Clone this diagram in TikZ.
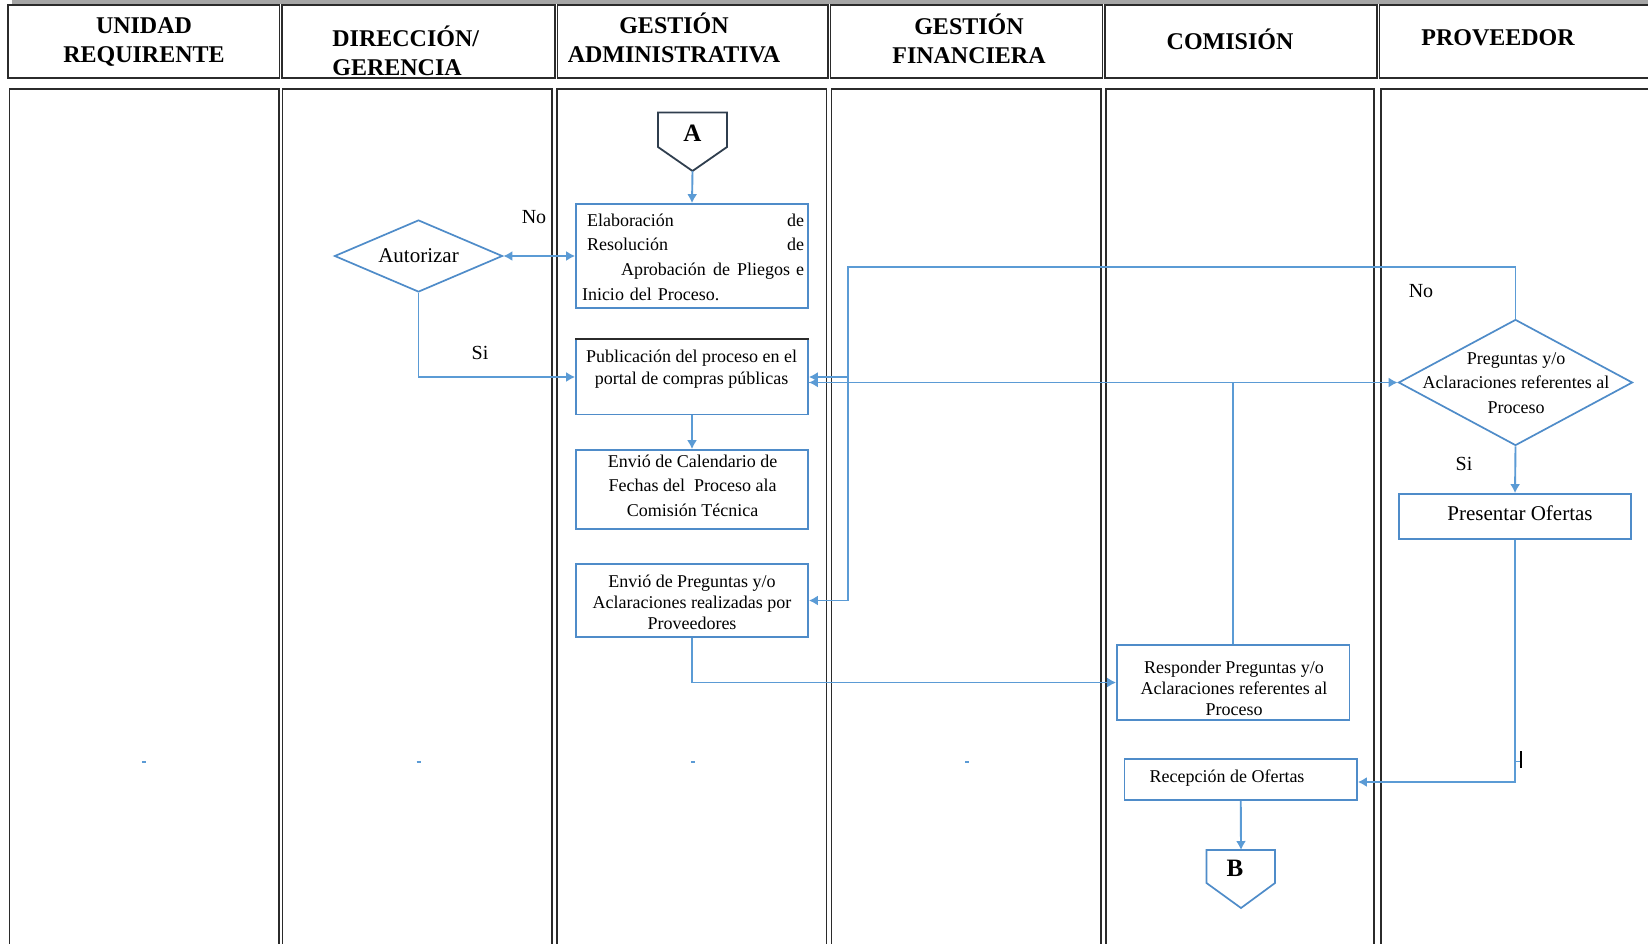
\documentclass[tikz,border=0pt]{standalone}
\usepackage{fontspec}
\setmainfont{Liberation Serif}
\usetikzlibrary{shapes.geometric,arrows.meta,calc}
\definecolor{flowblue}{HTML}{5B9BD5}
\definecolor{boxblue}{HTML}{4F8CC9}
\definecolor{lanegray}{HTML}{2B2B2B}
\definecolor{conn}{HTML}{2F3E4E}
\begin{document}
\begin{tikzpicture}[x=0.5pt,y=-0.5pt,
  lane/.style={draw=lanegray, line width=0.8pt},
  hdr/.style={font=\fontsize{12}{14.5}\selectfont\bfseries, align=center, inner sep=0},
  box/.style={draw=boxblue, line width=0.85pt, fill=white, inner sep=0, rectangle},
  dec/.style={draw=boxblue, line width=0.85pt, fill=white, diamond, inner sep=0},
  txt/.style={font=\fontsize{9}{10.75}\selectfont, align=center, inner sep=0},
  lbl/.style={font=\fontsize{10}{12}\selectfont, inner sep=0},
  flow/.style={draw=flowblue, line width=0.95pt},
  arr/.style={flow, -{Latex[length=4.5pt,width=5pt]}},
  darr/.style={flow, {Latex[length=4.5pt,width=5pt]}-{Latex[length=4.5pt,width=5pt]}},
  connA/.style={draw=conn, line width=0.9pt, fill=white},
  connB/.style={draw=boxblue, line width=0.85pt, fill=white},
  conntxt/.style={font=\fontsize{12.5}{14}\selectfont\bfseries, inner sep=0}
]
\useasboundingbox (0,0) rectangle (1648,943);
\clip (0,0) rectangle (1648,943);
\fill[white] (0,0) rectangle (1648,943);
\fill[gray!70] (12,0) rectangle (1648,3.5);

% header cells
\draw[lane] (8,5) rectangle (279.5,78);
\draw[lane] (282,5) rectangle (555,78);
\draw[lane] (557.5,5) rectangle (828,78);
\draw[lane] (830.5,5) rectangle (1102.5,78);
\draw[lane] (1105,5) rectangle (1377,78);
\draw[lane] (1379.6,5) rectangle (1670,78);

% lanes
\draw[lane] (9.6,89) rectangle (279,960);
\draw[lane] (282.5,89) rectangle (552,960);
\draw[lane] (557,89) rectangle (826.5,960);
\draw[lane] (831.6,89) rectangle (1101,960);
\draw[lane] (1106,89) rectangle (1374,960);
\draw[lane] (1381,89) rectangle (1670,960);

% header texts
\node[hdr] (h1) at (144,42) {UNIDAD\\REQUIRENTE};
\node[hdr, align=left, anchor=west] (h2) at (332,51) {DIRECCIÓN/\\GERENCIA};
\node[hdr] (h3) at (674,38) {GESTIÓN\\ADMINISTRATIVA};
\node[hdr] (h4) at (969,39) {GESTIÓN\\FINANCIERA};
\node[hdr] (h5) at (1230,39) {COMISIÓN};
\node[hdr] (h6) at (1498,38) {PROVEEDOR};

% connector A
\draw[connA] (658,112.5) -- (727,112.5) -- (727,147) -- (692.5,171) -- (658,147) -- cycle;
\node[conntxt] (A) at (692.5,133) {A};
\coordinate (Atip) at (692.5,171);

% boxes
\node[box, minimum width=116pt, minimum height=52pt] (elab) at (692,256) {};
\node[font=\fontsize{9}{12.3}\selectfont, text width=108.5pt, align=left, inner sep=0] (elabt) at (695.5,257)
 {Elaboración\hfill de\\Resolución\hfill de\\\hspace*{17pt}Aprobación\hfill de\hfill Pliegos e\\\hspace*{-2.5pt}Inicio del Proceso.};

\node[box, minimum width=116pt, minimum height=37.5pt] (pub) at (692,377) {};
\draw[lanegray, line width=1.1pt] (pub.north west) -- (pub.north east);
\node[txt] (pubt) at (691.5,369) {Publicación del proceso en el\\portal de compras públicas};

\node[box, minimum width=116pt, minimum height=39.5pt] (cal) at (692,489.5) {};
\node[txt, font=\fontsize{9}{12.25}\selectfont] (calt) at (692.6,485.5) {Envió de Calendario de\\Fechas del~ Proceso ala\\Comisión Técnica};

\node[box, minimum width=116pt, minimum height=36.5pt] (env) at (692,600.5) {};
\node[txt, font=\fontsize{9}{10.5}\selectfont] (envt) at (692,602) {Envió de Preguntas y/o\\Aclaraciones realizadas por\\Proveedores};

\node[box, minimum width=116.25pt, minimum height=37.5pt] (resp) at (1233.25,682.5) {};
\node[txt, font=\fontsize{9}{10.5}\selectfont] (respt) at (1234,688) {Responder Preguntas y/o\\Aclaraciones referentes al\\Proceso};

\node[box, minimum width=116pt, minimum height=22.5pt] (pres) at (1515,516.5) {};
\node[lbl, font=\fontsize{10.5}{12}\selectfont] (prest) at (1520,513) {Presentar Ofertas};

\node[box, minimum width=116.25pt, minimum height=20.5pt] (rec) at (1240.75,779.5) {};
\node[txt] (rect) at (1227,778) {Recepción de Ofertas};

% decisions
\node[dec, minimum width=84pt, minimum height=36pt] (aut) at (418.5,256) {};
\node[lbl, font=\fontsize{10.5}{12}\selectfont] (autt) at (418.5,255.5) {Autorizar};

\node[dec, minimum width=117pt, minimum height=63pt] (preg) at (1515.5,382.5) {};
\node[txt, font=\fontsize{9}{12.3}\selectfont] (pregt) at (1516,383) {Preguntas y/o\\Aclaraciones referentes al\\Proceso};

% connector B
\draw[connB] (1206.5,850) -- (1275,850) -- (1275,883) -- (1241,908) -- (1206.5,883) -- cycle;
\node[conntxt] (B) at (1235,868) {B};
\coordinate (Btop) at (1241,850);

% connectors
\coordinate (noloop) at (848,267);
\draw[arr] (Atip) -- (elab.north);
\draw[darr] (aut.east) -- (aut.east -| elab.west);
\draw[arr] (aut.south) |- (pub.west);
\draw[arr] (pub.south) -- (cal.north);
\draw[arr] (env.south) |- (resp.west);
\draw[arr] (resp.north) |- (pub.east |- preg.west);
\draw[arr] (pub.east |- preg.west) -- (preg.west);
\draw[arr] (preg.north) |- (noloop) |- (env.east);
\draw[arr] (noloop |- pub.east) -- (pub.east);
\draw[arr] (preg.south) -- (pres.north);
\draw[arr] (pres.south) |- ([yshift=-1.25pt]rec.east);
\draw[arr] (rec.south) -- (Btop);

% labels
\node[lbl] (no1) at (534,217.5) {No};
\node[lbl] (si1) at (480,353) {Si};
\node[lbl] (no2) at (1421,291) {No};
\node[lbl] (si2) at (1464,463.5) {Si};

% small marks
\draw[flow, line width=0.6pt] (142,762) -- (146,762);
\draw[flow, line width=0.6pt] (416.5,762) -- (420.5,762);
\draw[flow, line width=0.6pt] (691,762) -- (695,762);
\draw[flow, line width=0.6pt] (965,762) -- (969,762);
\draw[flow, line width=0.5pt] (1514,761.5) -- (1520,761.5);
\draw[black, line width=0.7pt] (1521,751) -- (1521,768);
\end{tikzpicture}
\end{document}
